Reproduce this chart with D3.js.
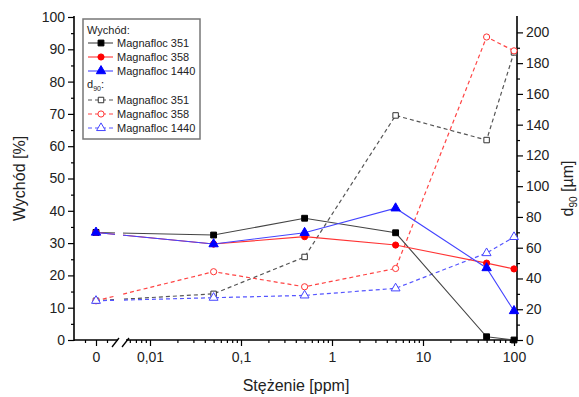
<!DOCTYPE html>
<html>
<head>
<meta charset="utf-8">
<script src="https://cdn.jsdelivr.net/npm/d3@7"></script>
<style>
  body { margin: 0; background: #fff; }
  svg { font-family: "Liberation Sans", Arial, sans-serif; }
</style>
</head>
<body>
<div id="chart"></div>
<script>
// concentrations [ppm]; 0 sits left of the axis break
const conc = [0, 0.05, 0.5, 5, 50, 100];
const xMajorTicks = [0.01, 0.1, 1, 10, 100];

// Wychód [%]
const yield351 = [33.3, 32.5, 37.7, 33.2, 1.0, 0.0];
const yield358 = [33.3, 29.7, 32.0, 29.4, 23.8, 22.0];
const yield1440 = [33.3, 29.7, 33.2, 40.8, 22.3, 9.0];

// d90 [µm]
const d90_351 = [25.5, 30, 54, 146, 130, 187];
const d90_358 = [25.5, 44.4, 34.6, 46.5, 197, 188];
const d90_1440 = [25.5, 27.5, 29, 33.6, 56.5, 67];

const names = ['Magnafloc 351', 'Magnafloc 358', 'Magnafloc 1440'];

const width = 579, height = 397;
const pLeft = 74, pRight = 517, pTop = 17, pBottom = 340;
const breakL = 116, breakR = 124;

const svg = d3.select('#chart').append('svg')
  .attr('width', width)
  .attr('height', height);

// scales
const xLin = d3.scaleLinear().domain([-2, 2]).range([pLeft, breakL + 2]);
const xLog = d3.scaleLog().domain([0.01, 100]).range([150, 514]);
const xPos = v => v === 0 ? xLin(0) : xLog(v);
const yL = d3.scaleLinear().domain([0, 100]).range([pBottom, pTop]);
const yR = d3.scaleLinear().domain([0, 210]).range([pBottom, pTop]);

const fmt = d3.formatLocale({decimal: ',', thousands: ' ', grouping: [3], currency: ['', '']}).format('~g');

// clip so the lines are broken at the axis break
const clip = svg.append('defs').append('clipPath').attr('id', 'brk');
clip.append('rect').attr('x', 0).attr('y', 0).attr('width', breakL - 1).attr('height', height);
clip.append('rect').attr('x', breakR - 1).attr('y', 0).attr('width', width).attr('height', height);

// ---- axes ----
const axes = svg.append('g').attr('stroke', '#000').attr('fill', 'none');

// left y
svg.append('g').attr('transform', `translate(${pLeft},0)`)
  .call(d3.axisLeft(yL).tickValues(d3.range(0, 101, 10)).tickSize(6).tickPadding(3));
svg.append('g').attr('transform', `translate(${pLeft},0)`)
  .call(d3.axisLeft(yL).tickValues(d3.range(5, 100, 10)).tickSize(3).tickFormat(''));

// right y
svg.append('g').attr('transform', `translate(${pRight},0)`)
  .call(d3.axisRight(yR).tickValues(d3.range(0, 201, 20)).tickSize(6).tickPadding(3));
svg.append('g').attr('transform', `translate(${pRight},0)`)
  .call(d3.axisRight(yR).tickValues(d3.range(10, 210, 20)).tickSize(3).tickFormat(''));

// bottom: linear part left of the break
svg.append('g').attr('transform', `translate(0,${pBottom})`)
  .call(d3.axisBottom(xLin).tickValues([0]).tickSize(6).tickPadding(6).tickFormat(d => fmt(d)));
svg.append('g').attr('transform', `translate(0,${pBottom})`)
  .call(d3.axisBottom(xLin).tickValues([-1, 1]).tickSize(3).tickFormat(''));

// bottom: log part right of the break
const logMinors = [];
[0.001, 0.01, 0.1, 1, 10].forEach(d => {
  for (let m = 2; m <= 9; m++) {
    const v = d * m;
    if (xLog(v) > breakR + 2 && xLog(v) < pRight) logMinors.push(v);
  }
});
svg.append('g').attr('transform', `translate(0,${pBottom})`)
  .call(d3.axisBottom(xLog).tickValues(xMajorTicks).tickSize(6).tickPadding(6).tickFormat(d => fmt(d)));
svg.append('g').attr('transform', `translate(0,${pBottom})`)
  .call(d3.axisBottom(xLog).tickValues(logMinors).tickSize(3).tickFormat(''));

svg.selectAll('.domain').remove();
svg.selectAll('.tick line').attr('stroke', '#000').attr('stroke-width', 1.2);
svg.selectAll('.tick text').attr('fill', '#222').style('font-size', '14px');

// axis lines
axes.raise();
axes.append('line').attr('x1', pLeft).attr('x2', pLeft).attr('y1', pTop - 1).attr('y2', pBottom + 1).attr('stroke-width', 1.6);
axes.append('line').attr('x1', pRight).attr('x2', pRight).attr('y1', pTop - 1).attr('y2', pBottom + 1).attr('stroke-width', 1.6);
axes.append('line').attr('x1', pLeft).attr('x2', breakL + 2).attr('y1', pBottom).attr('y2', pBottom).attr('stroke-width', 1.6);
axes.append('line').attr('x1', breakR + 2).attr('x2', pRight).attr('y1', pBottom).attr('y2', pBottom).attr('stroke-width', 1.6);
// break marks
[breakL - 2, breakR].forEach(bx => {
  axes.append('line').attr('x1', bx - 2).attr('y1', pBottom + 7).attr('x2', bx + 5).attr('y2', pBottom - 2)
    .attr('stroke-width', 1.3);
});

// ---- series ----
const series = [
  {vals: yield351, y: yL, color: '#000', line: '#444', sym: d3.symbolSquare, size: 34, filled: true},
  {vals: yield358, y: yL, color: '#f00', line: '#f33', sym: d3.symbolCircle, size: 30, filled: true},
  {vals: yield1440, y: yL, color: '#00f', line: '#44f', sym: d3.symbolTriangle, size: 38, filled: true},
  {vals: d90_351, y: yR, color: '#333', line: '#555', sym: d3.symbolSquare, size: 30, filled: false},
  {vals: d90_358, y: yR, color: '#f33', line: '#f44', sym: d3.symbolCircle, size: 30, filled: false},
  {vals: d90_1440, y: yR, color: '#44f', line: '#55f', sym: d3.symbolTriangle, size: 34, filled: false}
];
const drawOrder = [3, 4, 5, 0, 1, 2];

drawOrder.forEach(i => {
  const s = series[i];
  const pts = conc.map((c, k) => [xPos(c), s.y(s.vals[k])]);
  svg.append('path')
    .attr('d', d3.line()(pts))
    .attr('clip-path', 'url(#brk)')
    .attr('fill', 'none')
    .attr('stroke', s.line)
    .attr('stroke-width', s.filled ? 1.1 : 1.2)
    .attr('stroke-dasharray', s.filled ? null : '4,3');
  svg.selectAll(null).data(pts).join('path')
    .attr('transform', d => `translate(${d[0]},${d[1]})`)
    .attr('d', d3.symbol().type(s.sym).size(s.size))
    .attr('fill', s.filled ? s.color : '#fff')
    .attr('stroke', s.color)
    .attr('stroke-width', 1);
});

// ---- legend ----
const lg = svg.append('g').attr('transform', 'translate(83,19)');
lg.append('rect').attr('width', 117).attr('height', 120)
  .attr('fill', '#fff').attr('stroke', '#777').attr('stroke-width', 1.5);
const legFont = '11px';
lg.append('text').attr('x', 4).attr('y', 15).style('font-size', legFont).attr('fill', '#222').text('Wychód:');
const d90head = lg.append('text').attr('x', 4).attr('y', 69).style('font-size', legFont).attr('fill', '#222');
d90head.append('tspan').text('d');
d90head.append('tspan').attr('dy', 3).style('font-size', '7px').text('90');
d90head.append('tspan').attr('dy', -3).text(':');

const legRows = [24, 38, 52, 81, 95, 109];
series.forEach((s, i) => {
  const ry = legRows[i];
  lg.append('line').attr('x1', 5).attr('x2', 30).attr('y1', ry).attr('y2', ry)
    .attr('stroke', s.line).attr('stroke-width', 1.1)
    .attr('stroke-dasharray', s.filled ? null : '4,3');
  lg.append('path').attr('transform', `translate(18,${ry})`)
    .attr('d', d3.symbol().type(s.sym).size(s.size))
    .attr('fill', s.filled ? s.color : '#fff')
    .attr('stroke', s.color);
  lg.append('text').attr('x', 34).attr('y', ry + 4).style('font-size', legFont).attr('fill', '#222')
    .text(names[i % 3]);
});

// ---- axis titles ----
svg.append('text')
  .attr('transform', `translate(25,${(pTop + pBottom) / 2}) rotate(-90)`)
  .attr('text-anchor', 'middle').style('font-size', '16px').attr('fill', '#222')
  .text('Wychód [%]');

svg.append('text')
  .attr('x', 296).attr('y', 391)
  .attr('text-anchor', 'middle').style('font-size', '16px').attr('fill', '#222')
  .text('Stężenie [ppm]');

const rt = svg.append('text')
  .attr('transform', `translate(573,${(pTop + pBottom) / 2 + 10}) rotate(-90)`)
  .attr('text-anchor', 'middle').style('font-size', '16px').attr('fill', '#222');
rt.append('tspan').text('d');
rt.append('tspan').attr('dy', 4).style('font-size', '10px').text('90');
rt.append('tspan').attr('dy', -4).text(' [µm]');
</script>
</body>
</html>
